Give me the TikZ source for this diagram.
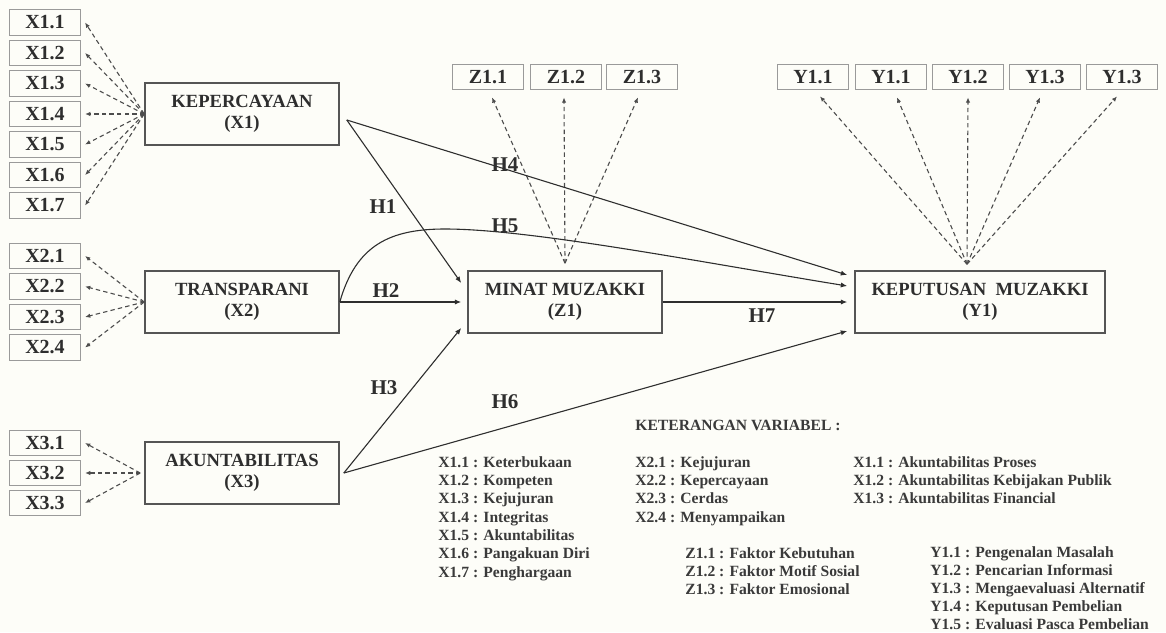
\documentclass[tikz,border=0pt]{standalone}
\usepackage{fontspec}
\setmainfont{Liberation Serif}
\usepackage{xcolor}
\usetikzlibrary{positioning,arrows.meta}

\definecolor{paper}{HTML}{FDFDF8}
\definecolor{ink}{HTML}{2E2E2E}
\definecolor{boxline}{HTML}{555555}
\definecolor{indline}{HTML}{9A9A9A}
\definecolor{legendtext}{HTML}{3A3A3A}

\begin{document}
\begin{tikzpicture}[
  x=0.5pt, y=-0.5pt,
  construct/.style={draw=boxline, line width=.8pt, align=center, minimum width=97pt, minimum height=31pt, inner sep=1pt, text=ink, font=\fontsize{9.3}{10.8}\selectfont\bfseries},
  indicator/.style={draw=indline, line width=.6pt, minimum width=35.5pt, minimum height=12.8pt, inner sep=0pt, text=ink, font=\fontsize{10}{11}\selectfont\bfseries},
  link/.style={-{Latex[length=3.2pt,width=2.6pt]}, draw=ink, line width=.55pt},
  load/.style={-{Latex[length=2.6pt,width=2.2pt]}, draw=ink!85, dash pattern=on 2.2pt off 1.6pt, line width=.55pt},
  hyp/.style={inner sep=0pt, text=ink, font=\fontsize{10.5}{12}\selectfont\bfseries},
  legend/.style={align=left, anchor=north west, inner sep=0pt, text=legendtext, font=\fontsize{7.8}{9.17}\selectfont\bfseries}
]
\fill[paper] (0,0) rectangle (1166,632);
\useasboundingbox (0,0) rectangle (1166,632);

% constructs
\node[construct] (kep) at (242,114) {KEPERCAYAAN\\(X1)};
\node[construct] (tra) at (242,302) {TRANSPARANI\\(X2)};
\node[construct] (aku) at (242,473) {AKUNTABILITAS\\(X3)};
\node[construct] (minat) at (565,302) {MINAT MUZAKKI\\(Z1)};
\node[construct, minimum width=125pt] (keput) at (980,302) {KEPUTUSAN\enspace MUZAKKI\\(Y1)};

% indicators
\node[indicator] (x11) at (45,22.5) {X1.1};
\node[indicator] (x12) at (45,53) {X1.2};
\node[indicator] (x13) at (45,83.5) {X1.3};
\node[indicator] (x14) at (45,114) {X1.4};
\node[indicator] (x15) at (45,144.5) {X1.5};
\node[indicator] (x16) at (45,175) {X1.6};
\node[indicator] (x17) at (45,205.5) {X1.7};
\node[indicator] (x21) at (45,256) {X2.1};
\node[indicator] (x22) at (45,286.5) {X2.2};
\node[indicator] (x23) at (45,317) {X2.3};
\node[indicator] (x24) at (45,347.5) {X2.4};
\node[indicator] (x31) at (45,443) {X3.1};
\node[indicator] (x32) at (45,473) {X3.2};
\node[indicator] (x33) at (45,503) {X3.3};
\node[indicator] (z11) at (488,77) {Z1.1};
\node[indicator] (z12) at (566,77) {Z1.2};
\node[indicator] (z13) at (642,77) {Z1.3};
\node[indicator] (y11a) at (813,77) {Y1.1};
\node[indicator] (y11b) at (891,77) {Y1.1};
\node[indicator] (y12) at (968,77) {Y1.2};
\node[indicator] (y13a) at (1045,77) {Y1.3};
\node[indicator] (y13b) at (1122,77) {Y1.3};

% loadings
\draw[load] (kep.west) -- ([xshift=2pt]x11.east);
\draw[load] (kep.west) -- ([xshift=2pt]x12.east);
\draw[load] (kep.west) -- ([xshift=2pt]x13.east);
\draw[load] (kep.west) -- ([xshift=2pt]x14.east);
\draw[load] (kep.west) -- ([xshift=2pt]x15.east);
\draw[load] (kep.west) -- ([xshift=2pt]x16.east);
\draw[load] (kep.west) -- ([xshift=2pt]x17.east);
\draw[load] (tra.west) -- ([xshift=2pt]x21.east);
\draw[load] (tra.west) -- ([xshift=2pt]x22.east);
\draw[load] (tra.west) -- ([xshift=2pt]x23.east);
\draw[load] (tra.west) -- ([xshift=2pt]x24.east);
\draw[load] ([xshift=-2pt]aku.west) -- ([xshift=2pt]x31.east);
\draw[load] ([xshift=-2pt]aku.west) -- ([xshift=2pt]x32.east);
\draw[load] ([xshift=-2pt]aku.west) -- ([xshift=2pt]x33.east);
\coordinate (zsrc) at ([yshift=3.5pt]minat.north);
\draw[load] (zsrc) -- ([shift={(4,7)}]z11.south);
\draw[load] (zsrc) -- ([shift={(-2,7)}]z12.south);
\draw[load] (zsrc) -- ([shift={(-4,7)}]z13.south);
\coordinate (ysrc) at ([shift={(-13,-6)}]keput.north);
\draw[load] (ysrc) -- ([shift={(7,6)}]y11a.south);
\draw[load] (ysrc) -- ([shift={(6,7)}]y11b.south);
\draw[load] (ysrc) -- ([shift={(0,7)}]y12.south);
\draw[load] (ysrc) -- ([shift={(-5,7)}]y13a.south);
\draw[load] (ysrc) -- ([shift={(-5,6)}]y13b.south);

% structural paths
\draw[link] ([shift={(7,6)}]kep.east) -- ([shift={(-6,-19)}]minat.west);
\draw[link] ([shift={(7,6)}]kep.east) -- ([shift={(-7,-27)}]keput.west);
\draw[link] (tra.east) .. controls (356,245) and (390,229) .. (445,229) .. controls (530,229) and (700,262) .. ([shift={(-7,-16)}]keput.west);
\draw[link] (tra.east) -- ([xshift=-3pt]minat.west);
\draw[link] ([xshift=2pt]aku.east) -- ([shift={(-6,26)}]minat.west);
\draw[link] ([xshift=2pt]aku.east) -- ([shift={(-7,29)}]keput.west);
\draw[link] (minat.east) -- ([xshift=-3.5pt]keput.west);

\node[hyp] (h1) at (383,207) {H1};
\node[hyp] (h2) at (386,291) {H2};
\node[hyp] (h3) at (384,388) {H3};
\node[hyp] (h4) at (505,165) {H4};
\node[hyp] (h5) at (505,226) {H5};
\node[hyp] (h6) at (505,402) {H6};
\node[hyp] (h7) at (762,316) {H7};

% keterangan
\node[legend] (legtitle) at (635,420) {KETERANGAN VARIABEL :};
\node[legend] (legx1) at (438,456) {X1.1 : Keterbukaan\\X1.2 : Kompeten\\X1.3 : Kejujuran\\X1.4 : Integritas\\X1.5 : Akuntabilitas\\X1.6 : Pangakuan Diri\\X1.7 : Penghargaan};
\node[legend] (legx2) at (635,456) {X2.1 : Kejujuran\\X2.2 : Kepercayaan\\X2.3 : Cerdas\\X2.4 : Menyampaikan};
\node[legend] (legx3) at (853,456) {X1.1 : Akuntabilitas Proses\\X1.2 : Akuntabilitas Kebijakan Publik\\X1.3 : Akuntabilitas Financial};
\node[legend] (legz) at (685,547) {Z1.1 : Faktor Kebutuhan\\Z1.2 : Faktor Motif Sosial\\Z1.3 : Faktor Emosional};
\node[legend, font=\fontsize{7.8}{9}\selectfont\bfseries] (legy) at (930,546) {Y1.1 : Pengenalan Masalah\\Y1.2 : Pencarian Informasi\\Y1.3 : Mengaevaluasi Alternatif\\Y1.4 : Keputusan Pembelian\\Y1.5 : Evaluasi Pasca Pembelian};
\end{tikzpicture}
\end{document}
